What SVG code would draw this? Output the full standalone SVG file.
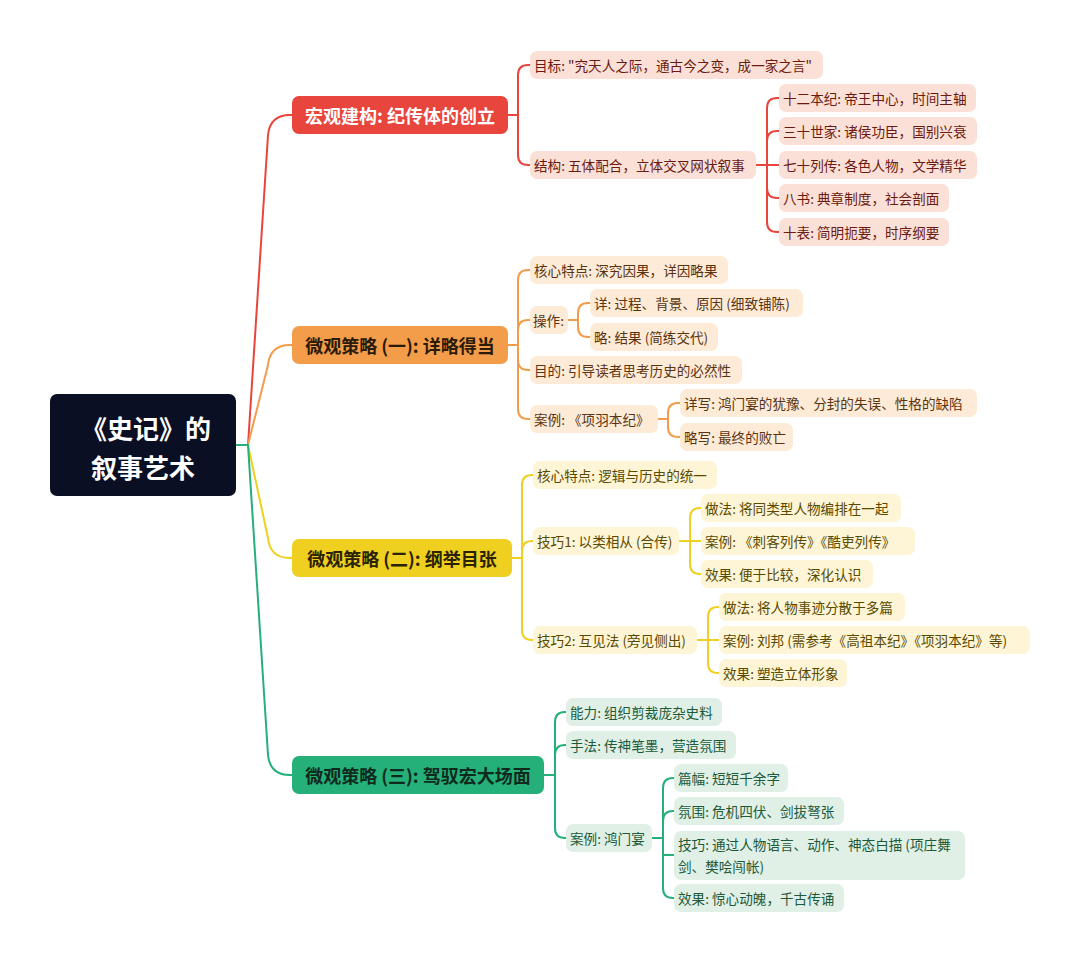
<svg xmlns="http://www.w3.org/2000/svg" width="1080" height="964" viewBox="0 0 1080 964">
<style>
text{font-family:"Noto Sans CJK SC","Noto Sans",sans-serif;}
.c{font-size:13.6px;dominant-baseline:central}
.b{font-size:18px;font-weight:bold;dominant-baseline:central;text-anchor:middle}
.l{fill:none;stroke-width:2}
.r .n{fill:#fbe0d7}.r text{fill:#6b1a10}
.o .n{fill:#fdebd8}.o text{fill:#5a3410}
.y .n{fill:#fdf5d6}.y text{fill:#5a4a00}
.g .n{fill:#e0f0e6}.g text{fill:#1c5a3a}
</style>
<rect width="1080" height="964" fill="#fff"/>
<g id="connectors">
<g stroke="#e8453c" class="l">
<path class="l" d="M236,445 H248 L268,135 Q270,115 290,115 H292"/>
<path class="l" d="M508,115 H518 V75 Q518,65 528,65 H530 M518,115 V155 Q518,165 528,165 H530"/>
<path class="l" d="M756,165 H767 V108 Q767,98 777,98 H779 M767,141 Q767,131 777,131 H779 M767,165 H779 M767,188 Q767,198 777,198 H779 M767,165 V222 Q767,232 777,232 H779"/>
</g>
<g stroke="#f39c4a" class="l">
<path class="l" d="M236,445 H248 L268,365 Q270,345 290,345 H292"/>
<path class="l" d="M508,345 H518 V280 Q518,270 528,270 H530 M518,330 Q518,320 528,320 H530 M518,360 Q518,370 528,370 H530 M518,345 V409 Q518,419 528,419 H530"/>
<path class="l" d="M568,320 H578 V313 Q578,303 588,303 H590 M578,320 V327 Q578,337 588,337 H590"/>
<path class="l" d="M658,419 H668 V413 Q668,403 678,403 H680 M668,419 V427 Q668,437 678,437 H680"/>
</g>
<g stroke="#efcf1f" class="l">
<path class="l" d="M236,445 H248 L268,538 Q270,558 290,558 H292"/>
<path class="l" d="M512,558 H522 V485 Q522,475 532,475 H533 M522,551 Q522,541 532,541 H533 M522,558 V630 Q522,640 532,640 H533"/>
<path class="l" d="M679,541 H690 V518 Q690,508 700,508 H701 M690,541 H701 M690,541 V564 Q690,574 700,574 H701"/>
<path class="l" d="M697,640 H708 V617 Q708,607 718,607 H719 M708,640 H719 M708,640 V663 Q708,673 718,673 H719"/>
</g>
<g stroke="#25b07a" class="l">
<path class="l" d="M236,445 H248 L268,755 Q270,775 290,775 H292"/>
<path class="l" d="M544,775 H555 V722 Q555,712 565,712 H566 M555,755 Q555,745 565,745 H566 M555,775 V828 Q555,838 565,838 H566"/>
<path class="l" d="M652,838 H663 V788 Q663,778 673,778 H674 M663,821 Q663,811 673,811 H674 M663,838 V855 H674 M663,838 V888 Q663,898 673,898 H674"/>
</g>
</g>
<g id="root"><rect x="50" y="394" width="186" height="102" rx="7" fill="#0b0f24"/>
<text x="146" y="427" font-size="26" font-weight="bold" fill="#fff" text-anchor="middle" dominant-baseline="central">《史记》的</text>
<text x="143" y="466" font-size="26" font-weight="bold" fill="#fff" text-anchor="middle" dominant-baseline="central">叙事艺术</text></g>

<g id="b1"><rect x="292" y="96" width="216" height="38" rx="7" fill="#e8453c"/><text class="b" x="400" y="115" fill="#fff">宏观建构: 纪传体的创立</text></g>
<g class="r">
<g id="r1"><rect class="n" x="530" y="51" width="293" height="28" rx="7"/><text class="c" x="534" y="65">目标: "究天人之际，通古今之变，成一家之言"</text></g>
<g id="r2"><rect class="n" x="530" y="151" width="226" height="28" rx="7"/><text class="c" x="534" y="165">结构: 五体配合，立体交叉网状叙事</text></g>
<g id="r3"><rect class="n" x="779" y="84" width="197" height="28" rx="7"/><text class="c" x="783" y="98">十二本纪: 帝王中心，时间主轴</text></g>
<g id="r4"><rect class="n" x="779" y="117" width="198" height="28" rx="7"/><text class="c" x="783" y="131">三十世家: 诸侯功臣，国别兴衰</text></g>
<g id="r5"><rect class="n" x="779" y="151" width="198" height="28" rx="7"/><text class="c" x="783" y="165">七十列传: 各色人物，文学精华</text></g>
<g id="r6"><rect class="n" x="779" y="184" width="170" height="28" rx="7"/><text class="c" x="783" y="198">八书: 典章制度，社会剖面</text></g>
<g id="r7"><rect class="n" x="779" y="218" width="170" height="28" rx="7"/><text class="c" x="783" y="232">十表: 简明扼要，时序纲要</text></g>
</g>

<g id="b2"><rect x="292" y="326" width="216" height="38" rx="7" fill="#f39c4a"/><text class="b" x="400" y="345" fill="#2a1a08">微观策略 (一): 详略得当</text></g>
<g class="o">
<g id="o1"><rect class="n" x="530" y="256" width="198" height="28" rx="7"/><text class="c" x="534" y="270">核心特点: 深究因果，详因略果</text></g>
<g id="o2"><rect class="n" x="530" y="306" width="38" height="28" rx="7"/><text class="c" x="533" y="320">操作:</text></g>
<g id="o3"><rect class="n" x="590" y="289" width="213" height="28" rx="7"/><text class="c" x="594" y="303">详: 过程、背景、原因 (细致铺陈)</text></g>
<g id="o4"><rect class="n" x="590" y="323" width="128" height="28" rx="7"/><text class="c" x="594" y="337">略: 结果 (简练交代)</text></g>
<g id="o5"><rect class="n" x="530" y="356" width="212" height="28" rx="7"/><text class="c" x="534" y="370">目的: 引导读者思考历史的必然性</text></g>
<g id="o6"><rect class="n" x="530" y="405" width="128" height="28" rx="7"/><text class="c" x="534" y="419">案例: 《项羽本纪》</text></g>
<g id="o7"><rect class="n" x="680" y="389" width="297" height="28" rx="7"/><text class="c" x="684" y="403">详写: 鸿门宴的犹豫、分封的失误、性格的缺陷</text></g>
<g id="o8"><rect class="n" x="680" y="423" width="113" height="28" rx="7"/><text class="c" x="684" y="437">略写: 最终的败亡</text></g>
</g>

<g id="b3"><rect x="292" y="539" width="220" height="38" rx="7" fill="#efcf1f"/><text class="b" x="402" y="558" fill="#2a2200">微观策略 (二): 纲举目张</text></g>
<g class="y">
<g id="y1"><rect class="n" x="533" y="461" width="184" height="28" rx="7"/><text class="c" x="537" y="475">核心特点: 逻辑与历史的统一</text></g>
<g id="y2"><rect class="n" x="533" y="527" width="146" height="28" rx="7"/><text class="c" x="537" y="541">技巧1: 以类相从 (合传)</text></g>
<g id="y3"><rect class="n" x="701" y="494" width="200" height="28" rx="7"/><text class="c" x="705" y="508">做法: 将同类型人物编排在一起</text></g>
<g id="y4"><rect class="n" x="701" y="527" width="214" height="28" rx="7"/><text class="c" x="705" y="541">案例: 《刺客列传》《酷吏列传》</text></g>
<g id="y5"><rect class="n" x="701" y="560" width="172" height="28" rx="7"/><text class="c" x="705" y="574">效果: 便于比较，深化认识</text></g>
<g id="y6"><rect class="n" x="533" y="626" width="164" height="28" rx="7"/><text class="c" x="537" y="640">技巧2: 互见法 (旁见侧出)</text></g>
<g id="y7"><rect class="n" x="719" y="593" width="186" height="28" rx="7"/><text class="c" x="723" y="607">做法: 将人物事迹分散于多篇</text></g>
<g id="y8"><rect class="n" x="719" y="626" width="311" height="28" rx="7"/><text class="c" x="723" y="640">案例: 刘邦 (需参考《高祖本纪》《项羽本纪》等)</text></g>
<g id="y9"><rect class="n" x="719" y="659" width="128" height="28" rx="7"/><text class="c" x="723" y="673">效果: 塑造立体形象</text></g>
</g>

<g id="b4"><rect x="292" y="756" width="252" height="38" rx="7" fill="#25b07a"/><text class="b" x="418" y="775" fill="#0e2a1c">微观策略 (三): 驾驭宏大场面</text></g>
<g class="g">
<g id="g1"><rect class="n" x="566" y="698" width="156" height="28" rx="7"/><text class="c" x="570" y="712">能力: 组织剪裁庞杂史料</text></g>
<g id="g2"><rect class="n" x="566" y="731" width="170" height="28" rx="7"/><text class="c" x="570" y="745">手法: 传神笔墨，营造氛围</text></g>
<g id="g3"><rect class="n" x="566" y="824" width="86" height="28" rx="7"/><text class="c" x="570" y="838">案例: 鸿门宴</text></g>
<g id="g4"><rect class="n" x="674" y="764" width="114" height="28" rx="7"/><text class="c" x="678" y="778">篇幅: 短短千余字</text></g>
<g id="g5"><rect class="n" x="674" y="797" width="170" height="28" rx="7"/><text class="c" x="678" y="811">氛围: 危机四伏、剑拔弩张</text></g>
<g id="g6"><rect class="n" x="674" y="831" width="291" height="49" rx="7"/><text class="c" x="678" y="844">技巧: 通过人物语言、动作、神态白描 (项庄舞</text><text class="c" x="678" y="866">剑、樊哙闯帐)</text></g>
<g id="g7"><rect class="n" x="674" y="884" width="170" height="28" rx="7"/><text class="c" x="678" y="898">效果: 惊心动魄，千古传诵</text></g>
</g>
</svg>
